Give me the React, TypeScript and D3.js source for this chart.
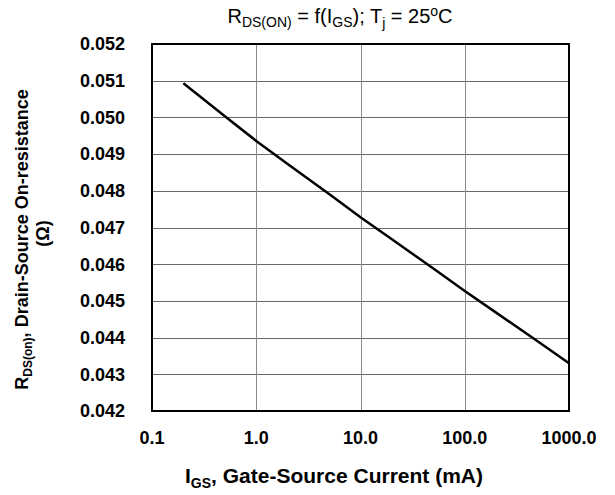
import React from 'react'
import * as d3 from 'd3'

// gate current (mA) and on-resistance (ohm)
const currents = [0.2, 0.5, 1, 2, 5, 10, 20, 50, 100, 200, 500, 1000]
const resistance = [0.05093, 0.05003, 0.04936, 0.04873, 0.04791, 0.04728, 0.04668, 0.04588, 0.04527, 0.04468, 0.0439, 0.0433]
const xTicks = [0.1, 1, 10, 100, 1000]
const yTicks = [0.042, 0.043, 0.044, 0.045, 0.046, 0.047, 0.048, 0.049, 0.05, 0.051, 0.052]

const W = 615
const H = 495
const margin = { top: 44, right: 46, bottom: 84, left: 152 }
const font = 'Liberation Sans, Arial, sans-serif'

export default function App() {
    const x = d3.scaleLog().domain([0.1, 1000]).range([margin.left, W - margin.right])
    const y = d3.scaleLinear().domain([0.042, 0.052]).range([H - margin.bottom, margin.top])

    const data = currents.map((c, i) => ({ c, r: resistance[i] }))
    const line = d3.line<{ c: number; r: number }>()
        .x(d => x(d.c))
        .y(d => y(d.r))

    const x0 = x.range()[0], x1 = x.range()[1]
    const y0 = y.range()[1], y1 = y.range()[0]

    return (
        <svg width={W} height={H} style={{ position: 'absolute', left: 0, top: 0, fontFamily: font }}>
            <rect width={W} height={H} fill='#fff' />
            {/* grid */}
            {yTicks.map(t => (
                <line key={'gy' + t} x1={x0} x2={x1} y1={Math.round(y(t)) + 0.5} y2={Math.round(y(t)) + 0.5} stroke='#6a6a6a' strokeWidth={1} />
            ))}
            {xTicks.map(t => (
                <line key={'gx' + t} x1={Math.round(x(t)) + 0.5} x2={Math.round(x(t)) + 0.5} y1={y0} y2={y1} stroke='#8a8a8a' strokeWidth={1} />
            ))}
            <rect x={x0} y={y0} width={x1 - x0} height={y1 - y0} fill='none' stroke='#000' strokeWidth={2} />

            <path d={line(data) || ''} fill='none' stroke='#000' strokeWidth={2.5} />

            {/* y tick labels */}
            {yTicks.map(t => (
                <text key={'ly' + t} x={x0 - 27} y={y(t)} dy='0.35em' textAnchor='end' fontSize={18} fontWeight='bold'>
                    {t.toFixed(3)}
                </text>
            ))}
            {/* x tick labels */}
            {xTicks.map(t => (
                <text key={'lx' + t} x={x(t)} y={y1 + 33} textAnchor='middle' fontSize={18} fontWeight='bold'>
                    {t.toFixed(1)}
                </text>
            ))}

            {/* title */}
            <text x={340} y={23} textAnchor='middle' fontSize={20}>
                R<tspan fontSize={14} dy={4}>DS(ON)</tspan>
                <tspan dy={-4}> = f(I</tspan>
                <tspan fontSize={14} dy={4}>GS</tspan>
                <tspan dy={-4}>); T</tspan>
                <tspan fontSize={14} dy={5}>j</tspan>
                <tspan dy={-5}> = 25</tspan>
                <tspan fontSize={14} dy={-7}>o</tspan>
                <tspan dy={7}>C</tspan>
            </text>

            {/* x axis title */}
            <text x={334} y={483} textAnchor='middle' fontSize={21} fontWeight='bold'>
                I<tspan fontSize={14} dy={5}>GS</tspan>
                <tspan dy={-5}>, Gate-Source Current (mA)</tspan>
            </text>

            {/* y axis title */}
            <g transform={`translate(28,${(y0 + y1) / 2}) rotate(-90)`}>
                <text x={-12} y={0} textAnchor='middle' fontSize={18} fontWeight='bold'>
                    R<tspan fontSize={12} dy={4}>DS(on)</tspan>
                    <tspan dy={-4}>, Drain-Source On-resistance</tspan>
                </text>
                <text x={-6} y={21} textAnchor='middle' fontSize={18} fontWeight='bold'>(Ω)</text>
            </g>
        </svg>
    )
}
